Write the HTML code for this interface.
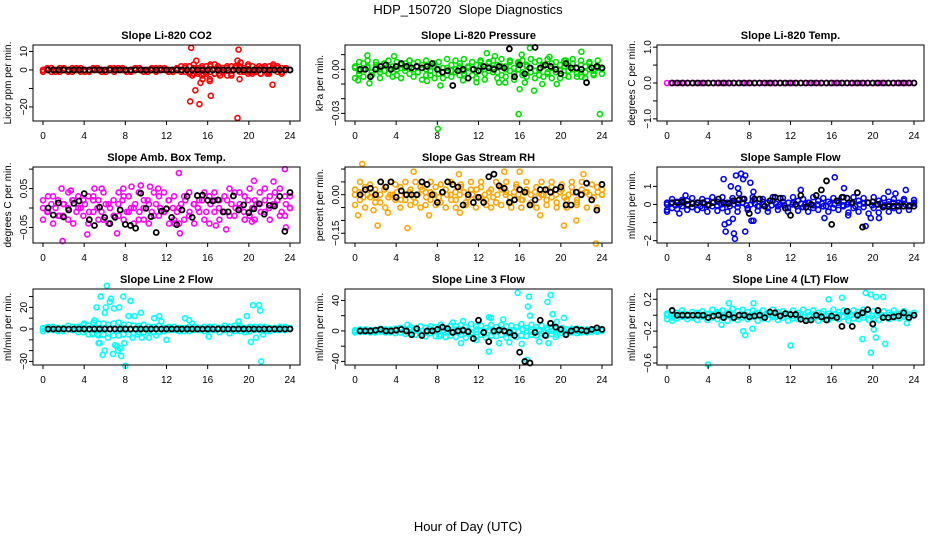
<!DOCTYPE html>
<html><head><meta charset="utf-8"><style>
html,body{margin:0;padding:0;background:#fff;}
svg{display:block;font-family:"Liberation Sans",sans-serif;}
</style></head><body>
<svg id="chart" width="936" height="540" viewBox="0 0 936 540">
<text x="468" y="14" text-anchor="middle" font-size="13" style="white-space:pre">HDP_150720  Slope Diagnostics</text>
<text x="468" y="531" text-anchor="middle" font-size="13">Hour of Day (UTC)</text>
</svg>
<script>
const xTicks=[0,4,8,12,16,20,24];
const co2A=[0,1,-1,0,1,0,-1,0,1,0,0,-1,0,1,0,-1,0,0,1,0,-1,0,1,0,0,-1,0,1,0,0,-1,0,1,0,-1,2,-2,1,-3,2,-1,3,-2,1,-3,2,2,-1,1,-2,2,-1,1,2,-2,1,2,-1,1,0];
const co2B=[-1,0,1,-1,0,1,0,-1,0,1,-1,0,1,0,-1,0,1,-1,0,1,0,-1,0,1,-1,0,1,-1,0,1,0,-1,0,2,1,-2,3,-1,2,-2,3,-2,1,-1,2,-3,1,2,-1,3,-2,1,-2,2,-1,3,1,-2,1,0];
const co2C=[0,0,1,0,-1,0,0,1,0,-1,0,0,1,0,0,-1,0,1,0,0,-1,0,0,1,0,-1,0,0,1,0,0,-1,1,-1,2,-1,1,-2,1,-1,2,-2,1,-1,1,-2,2,1,-1,2,-1,1,-2,1,-1,2,-1,1,0,0];
const co2Out=[[14.3,-17],[14.4,12],[14.5,-3],[14.8,-11],[14.9,5],[15.2,-18.5],[15.3,-7],[15.5,-5],[15.6,-2],[16.2,-5],[16.2,-6],[16.3,-14],[17.2,-3],[17,2],[18.9,5],[19,11],[18.9,-26],[19.1,-5],[19.2,4],[20,-1],[21.8,-2],[22.3,-8],[21,2],[20.5,-1],[22,2]];
const co2Black=[0,0,0,0,0,0,0,0,0,0,0,0,0,0,0,0,0,0,0,0,0,0,0,0,0,0,0,0,0,0,0,0,0,0,0,0,0,0,0,0,0,0,0,0,0,0,0,0];
const co2Ticks=[10,0,-10,-20];const co2Labels=["10","0","","-20"];

const presA=[0.002,-0.003,0.004,0.001,-0.004,0.003,-0.002,0.004,-0.003,0.002,-0.004,0.003,0.001,-0.003,0.004,-0.002,0.003,-0.004,0.002,0.004,-0.003,0.001,-0.004,0.003,-0.002,0.004,-0.003,0.002,-0.004,0.003,0.005,-0.003,0.004,-0.002,0.003,-0.004,0.002,0.005,-0.003,0.004,-0.004,0.003,-0.002,0.005,-0.004,0.003,-0.003,0.004,-0.002,0.003,-0.004,0.002,0.004,-0.003,0.003,-0.002,0.004,-0.003,0.002,0.001];
const presB=[-0.006,0.005,-0.005,0.006,-0.004,0.005,-0.006,0.004,0.006,-0.005,0.005,-0.006,0.004,0.006,-0.005,0.005,-0.007,0.006,-0.004,-0.006,0.005,-0.006,0.007,-0.005,0.006,-0.004,0.007,-0.006,0.005,-0.006,0.006,-0.007,0.005,0.006,-0.006,0.007,-0.005,0.006,-0.007,0.005,0.006,-0.005,0.007,-0.006,0.006,-0.005,0.007,-0.006,0.005,-0.006,0.006,-0.005,0.007,-0.005,0.006,-0.006,0.005,-0.004,0.006,-0.003];
const presC=[0.001,-0.001,0.0,0.002,-0.002,0.001,0.0,-0.001,0.002,-0.002,0.0,0.001,-0.001,0.002,0.0,-0.002,0.001,0.0,-0.001,0.002,0.0,-0.002,0.001,-0.001,0.0,0.002,-0.001,0.001,0.0,-0.002,0.002,0.0,-0.001,0.001,-0.002,0.002,0.0,-0.001,0.001,0.0,-0.002,0.002,0.001,-0.001,0.0,0.002,-0.002,0.001,0.0,-0.001,0.002,-0.001,0.0,0.001,-0.002,0.002,0.0,-0.001,0.001,0.0];
const presOut=[[1.2,0.0095],[0.3,-0.0075],[1.4,-0.0095],[3.8,0.009],[5.3,0.006],[7,-0.008],[8.05,-0.0405],[8.3,-0.011],[10.5,-0.0075],[11.8,-0.0088],[12.8,0.011],[13.6,0.009],[14,-0.009],[14.6,-0.009],[15.9,-0.0305],[16,-0.0135],[16.5,-0.009],[17,0.0145],[17.4,-0.0145],[18.2,-0.01],[18.9,0.0085],[19.6,-0.01],[22,0.012],[22,-0.005],[23.8,-0.0305],[16.2,0.01],[20.5,0.006]];
const presBlack=[0,0,-0.005,0,0.002,0.003,0,0.002,0.004,0.002,0.001,0.002,0.001,0.002,0.004,0,-0.002,-0.001,-0.011,-0.001,0,-0.006,0,-0.001,0.002,0.001,0,0.002,0.001,0.014,-0.005,0.003,-0.003,0.001,0.015,0.001,0.003,0.002,0,-0.003,0.004,0.001,0.001,0,-0.009,0.001,0.002,0.001];
const presTicks=[0.01,0,-0.01,-0.02,-0.03];const presLabels=["","0.00","","","-0.03"];

const tempA=[0,0,0,0,0,0,0,0,0,0,0,0,0,0,0,0,0,0,0,0,0,0,0,0,0,0,0,0,0,0,0,0,0,0,0,0,0,0,0,0,0,0,0,0,0,0,0,0,0,0,0,0,0,0,0,0,0,0,0,0];
const tempBlack=[0,0,0,0,0,0,0,0,0,0,0,0,0,0,0,0,0,0,0,0,0,0,0,0,0,0,0,0,0,0,0,0,0,0,0,0,0,0,0,0,0,0,0,0,0,0,0,0];
const tempTicks=[1,0.5,0,-0.5,-1];const tempLabels=["1.0","","0.0","","-1.0"];

const ambA=[0.02,-0.01,0.03,-0.02,0.01,-0.03,0.02,0.0,-0.02,0.03,-0.01,0.02,-0.03,0.01,0.02,-0.02,0.03,-0.01,0.0,-0.03,0.02,0.01,-0.02,0.03,-0.01,0.02,-0.03,0.0,0.03,-0.02,0.01,0.02,-0.03,0.03,-0.01,0.02,0.03,-0.02,0.04,0.0,0.03,-0.02,0.02,0.04,-0.01,0.03,0.01,-0.02,0.03,0.0];
const ambB=[-0.03,0.03,-0.04,0.02,-0.02,0.04,-0.04,0.03,0.02,-0.04,0.03,-0.03,0.04,-0.04,-0.02,0.04,-0.03,0.03,-0.04,0.04,-0.03,-0.04,0.04,-0.02,0.04,-0.04,0.03,-0.04,-0.03,0.04,-0.04,-0.01,0.04,-0.04,0.04,-0.03,-0.01,0.05,-0.02,0.04,-0.03,0.05,-0.03,0.01,0.05,-0.03,0.04,0.05,-0.02,0.03];
const ambC=[0.0,-0.01,0.01,0.0,-0.02,0.01,0.0,0.02,-0.01,0.0,0.01,-0.01,0.02,0.0,-0.01,0.01,0.0,-0.02,0.01,0.02,-0.01,0.0,0.01,-0.01,0.0,0.02,-0.01,0.01,0.0,-0.01,0.02,0.0,-0.01,0.01,0.02,-0.01,0.01,0.0,0.02,-0.01,0.01,0.02,0.0,-0.01,0.02,0.01,0.0,0.01,-0.01,0.02,0.0,0.01,-0.01,0.02,0.0,0.01,0.02,-0.01,0.01,0.0];
const ambOut=[[1.9,-0.085],[13.2,0.09],[23.5,0.1],[4.3,-0.068],[9.5,0.058],[13.3,-0.065],[23.6,-0.05],[1.8,0.05],[2.7,0.045],[5,0.05],[5.7,0.05],[7.8,0.05],[8.6,0.055],[10.4,0.055],[11.2,0.05],[20.5,0.07],[22.4,0.068],[20.3,-0.035],[17.8,-0.055],[16.8,-0.045],[7.2,-0.065],[12.8,-0.04]];
const ambBlack=[0,-0.018,0.013,-0.023,-0.005,0.012,0.018,0.037,-0.03,-0.045,0.002,-0.024,-0.04,-0.024,-0.005,-0.042,-0.045,-0.052,0.038,-0.001,-0.022,-0.063,-0.008,-0.002,-0.024,-0.043,-0.005,0.03,-0.024,0.032,0.033,0.02,0.018,0.021,-0.01,-0.01,0.031,-0.005,0.008,-0.012,-0.002,0.011,-0.016,0.007,0.005,0.03,-0.06,0.04];
const ambTicks=[0.1,0.05,0,-0.05];const ambLabels=["","0.05","","-0.05"];

const rhA=[0.02,-0.02,0.03,-0.01,0.02,-0.03,0.03,0.0,-0.02,0.03,-0.02,0.02,-0.03,0.03,0.01,-0.02,0.03,-0.03,0.02,0.0,-0.02,0.03,-0.03,0.02,-0.01,0.03,-0.02,0.02,-0.03,0.03,0.01,-0.03,0.03,-0.02,0.02,-0.03,0.03,0.0,-0.02,0.03,-0.03,0.02,-0.02,0.03,-0.03,0.02,0.01,-0.02,0.03,0.0];
const rhB=[-0.04,0.05,-0.05,0.04,-0.03,0.05,-0.05,0.05,0.04,-0.05,0.05,-0.04,0.05,-0.05,-0.04,0.05,-0.04,0.04,-0.05,0.05,-0.05,0.04,-0.04,0.05,-0.05,0.05,-0.04,-0.05,0.05,-0.04,0.05,-0.05,0.04,-0.05,0.05,-0.04,-0.05,0.05,-0.04,0.05,-0.05,0.04,-0.05,0.05,-0.04,0.05,-0.05,0.04,-0.05,0.02];
const rhC=[0.0,0.01,-0.01,0.0,0.01,-0.01,0.0,0.02,-0.01,0.0,0.01,-0.02,0.0,0.01,-0.01,0.0,0.02,-0.01,0.01,0.0,-0.01,0.01,0.0,-0.02,0.01,0.0,0.01,-0.01,0.0,0.02,-0.01,0.0,0.01,-0.01,0.0,0.02,0.0,-0.01,0.01,0.0,-0.02,0.01,0.0,0.01,-0.01,0.0,0.02,-0.01,0.0,0.01,-0.01,0.0,0.01,-0.02,0.0,0.01,0.0,-0.01,0.01,0.0];
const rhOut=[[0.7,0.12],[0.3,-0.08],[2.2,-0.12],[3.2,-0.07],[5.1,-0.13],[5.7,0.09],[7.2,-0.08],[10.1,0.08],[14.5,0.09],[16,0.09],[18,-0.08],[20.3,-0.12],[21.5,-0.1],[22.2,0.08],[23.4,-0.19],[1.8,-0.06],[10.2,-0.07]];
const rhBlack=[0,0.02,0.025,0,0.05,0.03,0.05,-0.01,0.015,0,0,0,0.05,0.04,0,-0.03,0.01,0.05,0.04,0.03,-0.04,0,-0.03,-0.01,-0.03,0.07,0.08,0.035,0.025,-0.03,-0.02,0.02,0.01,-0.04,-0.02,0.02,0.02,0.01,0.02,0.03,-0.04,-0.04,0.01,0,0.045,-0.02,-0.06,0.04];
const rhTicks=[0.1,0.05,0,-0.05,-0.1,-0.15];const rhLabels=["","","0.00","","","-0.15"];

const sfA=[0.1,-0.2,0.15,-0.1,0.2,-0.15,0.1,-0.2,0.2,-0.1,0.15,-0.2,0.1,0.2,-0.15,0.1,-0.2,0.2,-0.1,0.15,-0.2,0.2,-0.1,0.15,-0.2,0.1,0.2,-0.15,0.1,-0.2,0.2,-0.1,0.15,-0.2,0.2,-0.1,0.1,-0.2,0.2,-0.15,0.1,-0.2,0.2,-0.1,0.15,-0.2,0.1,0.2,-0.1,0.1];
const sfB=[-0.3,0.3,-0.25,0.25,-0.3,0.35,-0.3,0.3,-0.4,0.4,-0.35,0.4,-0.4,0.35,-0.4,0.3,-0.3,0.4,-0.35,0.3,-0.4,0.4,-0.3,0.35,-0.4,0.4,-0.35,0.3,-0.4,0.4,-0.3,0.35,-0.4,0.35,-0.3,0.4,-0.45,0.4,-0.4,0.35,-0.5,0.4,-0.45,0.35,-0.4,0.3,-0.35,0.3,-0.3,0.25];
const sfC=[0.0,0.05,-0.05,0.0,0.1,-0.05,0.05,0.0,-0.1,0.05,0.0,0.1,-0.05,0.0,0.05,-0.1,0.0,0.05,0.1,-0.05,0.0,0.05,-0.1,0.0,0.1,-0.05,0.05,0.0,-0.05,0.1,0.0,-0.1,0.05,0.0,0.1,-0.05,0.0,0.05,-0.1,0.05,0.0,0.1,-0.05,0.0,0.05,-0.1,0.0,0.05,0.1,-0.05,0.0,0.05,-0.05,0.0,0.1,-0.05,0.05,0.0,-0.05,0.05];
const sfOut=[[5.5,1.4],[5.6,-1.1],[5.7,-1.5],[6.0,-1.0],[6.2,1.0],[6.4,-0.8],[6.5,-1.6],[6.6,-1.9],[6.7,1.6],[6.9,0.9],[7,0.6],[7.2,1.7],[7.4,1.4],[7.6,1.6],[7.6,-1.5],[8.1,1.2],[8.2,-0.9],[8.4,0.7],[8.4,-0.9],[13,0.8],[15.3,-0.75],[16.3,1.5],[17.2,0.9],[17.6,-0.6],[19.3,-1.2],[21.5,0.7],[23.2,0.8],[1.2,-0.5],[0,-0.4],[1.8,0.5],[19.8,-0.75],[20.6,-0.75],[22.2,0.6]];
const sfBlack=[0.1,0.1,0.15,0,0.05,0.1,0.1,-0.05,0.1,0.3,0.1,0.05,0.2,0.25,0.3,-0.5,0.3,0.3,-0.1,0.2,0.4,0.35,-0.2,-0.6,0.0,0.5,-0.15,0.0,0.5,0.8,1.3,-1.1,0.2,0.4,0.35,0.1,0.65,-1.25,0.1,0.15,0.0,-0.15,-0.1,-0.1,-0.1,-0.1,-0.1,-0.1];
const sfTicks=[1,0,-1,-2];const sfLabels=["1","0","","-2"];

const l2A=[1,-1,2,-2,1,0,-1,2,-3,3,-4,5,-5,4,-6,6,-5,4,-4,3,-3,2,-3,3,-2,2,-1,1,-2,2,-1,1,-2,2,-1,1,-1,2,-2,3,-3,2,-1,2,-2,1,-1,2,-1,1];
const l2B=[-2,2,-1,1,-2,3,2,-3,4,-5,6,-6,5,-4,5,-6,4,-5,3,-3,4,-2,2,-3,1,-1,2,-2,1,-2,2,-1,2,-1,2,-3,3,-4,3,-2,1,-2,2,-1,2,-2,1,-1,2,0];
const l2C=[0,1,0,-1,0,1,0,-1,1,0,-1,0,1,0,-1,1,0,0,-1,1,0,-1,0,1,0,-1,1,0,0,-1,1,0,-1,0,1,0,-1,1,0,0,1,-1,0,1,0,-1,0,1,-1,0,1,0,-1,0,1,0,-1,1,0,0];
const l2Out=[[5.2,20],[5.3,-5],[5.4,-13],[5.5,-13],[5.6,30],[5.8,-24],[6,-20],[6,15],[6.1,20],[6.2,40],[6.3,-8],[6.5,25],[6.6,28],[6.8,-23],[6.9,19],[7,-15],[7.2,-16],[7.3,-20],[7.5,-18],[7.4,20],[7.6,-25],[7.8,30],[7.9,-13],[8,-34],[8.3,12],[8.5,26],[8.7,-8],[8.9,12],[9.5,15],[9.2,-5],[10.3,-8],[10.8,10],[11.3,12],[11.5,7],[12,-10],[13.8,10],[14.2,8],[14.5,5],[16.1,-7],[19,7],[19.8,12],[20.2,-12],[20.4,22],[20.7,-8],[21,22],[21.1,17],[21.2,-30],[21.4,-5],[4,5],[4.8,-5],[5,8],[9.6,-8],[11,-6]];
const l2Black=[0,0,0,0,0,0,0,0,0,0,0,0,0,0,0,0,0,0,0,0,0,0,0,0,0,0,0,0,0,0,0,0,0,0,0,0,0,0,0,0,0,0,0,0,0,0,0,0];
const l2Ticks=[30,20,10,0,-10,-20,-30];const l2Labels=["","20","","0","","","-30"];

const l3A=[1,-1,2,-2,1,-1,2,-2,3,-2,2,-3,3,-4,4,-3,5,-5,4,-6,6,-5,5,-4,6,-5,4,-6,5,-5,6,-4,5,-6,4,-5,5,-3,4,-4,3,-3,2,-2,3,-2,2,-1,1,0];
const l3B=[-2,2,-1,1,-2,3,-2,2,-3,4,-4,5,-5,6,-7,6,-7,8,-8,7,-8,8,-9,9,-8,7,-9,8,-7,8,-9,7,-8,9,-7,8,-6,7,-6,5,-5,4,-4,3,-3,2,-2,2,-1,1];
const l3C=[0,1,-1,0,1,-1,0,2,-1,0,1,-2,0,2,-1,1,0,-2,2,0,-1,1,0,-2,2,-1,0,1,-2,2,0,-1,1,-2,0,2,-1,0,1,-1,2,0,-1,1,0,-1,2,0,-1,1,0,-1,1,0,1,-1,0,1,0,0];
const l3Out=[[15.8,50],[16.7,-38],[16.9,45],[16.8,32],[17,20],[18.7,38],[19,47],[19.2,22],[19.6,12],[20.3,17],[13,-27],[13,18],[13.2,17],[14.4,15],[14,-16],[10.3,-16],[10.5,13],[11.8,-12],[9.5,11],[15,-15],[16.2,-17],[17.9,-14],[18.8,-16],[19.5,-8],[8.2,-7],[8.8,-8],[5.1,8]];
const l3Black=[0,0,0,1,2,0,0,1,2,0,-5,3,-6,0,0,2,5,3,-2,0,1,-1,-10,14,-2,-14,0,1,0,-2,-6,-28,-40,-42,-2,14,-6,10,5,2,-5,0,2,1,0,2,4,2];
const l3Ticks=[40,20,0,-20,-40];const l3Labels=["40","","0","","-40"];

const l4A=[0.02,-0.03,0.03,-0.02,0.01,-0.03,0.03,-0.01,0.02,-0.03,0.04,-0.02,0.03,-0.04,0.05,-0.03,0.04,-0.02,0.03,-0.04,0.03,-0.02,0.04,-0.03,0.02,-0.04,0.03,-0.02,0.04,-0.03,0.03,-0.04,0.02,-0.03,0.04,-0.02,0.03,-0.04,0.04,-0.03,0.02,-0.04,0.03,-0.02,0.03,-0.03,0.02,-0.02,0.01,0];
const l4B=[-0.05,0.05,-0.04,0.06,-0.05,0.04,-0.06,0.05,-0.06,0.07,-0.05,0.06,-0.07,0.08,-0.06,0.07,-0.05,0.06,-0.07,0.06,-0.05,0.07,-0.06,0.05,-0.07,0.06,-0.05,0.07,-0.06,0.06,-0.07,0.05,-0.06,0.07,-0.05,0.06,-0.07,0.06,-0.05,0.07,-0.06,0.05,-0.06,0.05,-0.05,0.06,-0.04,0.05,-0.04,0.03];
const l4C=[0.0,0.01,-0.01,0.0,0.02,-0.01,0.0,0.01,-0.02,0.0,0.01,-0.01,0.02,0.0,-0.01,0.01,0.0,-0.02,0.01,0.0,-0.01,0.02,0.0,-0.01,0.01,0.0,-0.02,0.01,0.0,0.02,-0.01,0.0,0.01,-0.02,0.0,0.01,-0.01,0.02,0.0,-0.01,0.01,0.0,-0.02,0.01,0.0,0.01,-0.01,0.0,0.02,-0.01,0.0,0.01,-0.01,0.0,0.01,-0.01,0.0,0.01,0.0,0.0];
const l4Out=[[4,-0.62],[12,-0.38],[19,-0.3],[19.8,-0.47],[21.2,-0.36],[20.1,-0.18],[20.3,-0.28],[19.3,0.28],[19.8,0.26],[20.3,0.23],[21,0.23],[15.7,0.2],[17,0.22],[6,0.15],[8.4,0.15],[7.4,-0.2],[7.6,-0.25],[5.3,-0.12],[8.3,-0.17],[23.3,-0.1],[0.5,-0.07]];
const l4Black=[0.06,0,0,0,0,0,0,-0.03,-0.01,0,-0.03,0.01,-0.03,0,0,-0.02,-0.01,0,-0.03,0.04,0.03,-0.01,0.02,0.01,0.01,-0.05,-0.07,-0.06,0,-0.02,-0.06,-0.01,-0.03,-0.14,0.05,-0.14,0,0.03,0.07,-0.11,0.06,-0.03,-0.03,-0.02,-0.01,0.03,-0.03,0];
const l4Ticks=[0.2,0,-0.2,-0.4,-0.6];const l4Labels=["0.2","","-0.2","","-0.6"];

const panels=[
 {name:"co2",title:"Slope Li-820 CO2",ylab:"Licor ppm per min.",col:"#ff0000",top:13.5,bot:-27.6,bands:[co2A,co2B,co2C],out:co2Out,black:co2Black,ticks:co2Ticks,labels:co2Labels},
 {name:"pressure",title:"Slope Li-820 Pressure",ylab:"kPa per min.",col:"#00e000",top:0.0166,bot:-0.0352,bands:[presA,presB,presC],out:presOut,black:presBlack,ticks:presTicks,labels:presLabels},
 {name:"li820-temp",title:"Slope Li-820 Temp.",ylab:"degrees C per min.",col:"#ff00ff",top:1.06,bot:-1.06,bands:[tempA],out:[],black:tempBlack,ticks:tempTicks,labels:tempLabels},
 {name:"amb-box-temp",title:"Slope Amb. Box Temp.",ylab:"degrees C per min.",col:"#ff00ff",top:0.1055,bot:-0.09,bands:[ambA,ambB,ambC],out:ambOut,black:ambBlack,ticks:ambTicks,labels:ambLabels},
 {name:"gas-stream-rh",title:"Slope Gas Stream RH",ylab:"percent per min.",col:"#ffa500",top:0.108,bot:-0.188,bands:[rhA,rhB,rhC],out:rhOut,black:rhBlack,ticks:rhTicks,labels:rhLabels},
 {name:"sample-flow",title:"Slope Sample Flow",ylab:"ml/min per min.",col:"#0000ff",top:2.07,bot:-2.13,bands:[sfA,sfB,sfC],out:sfOut,black:sfBlack,ticks:sfTicks,labels:sfLabels},
 {name:"line2-flow",title:"Slope Line 2 Flow",ylab:"ml/min per min.",col:"#00ffff",top:37,bot:-33.3,bands:[l2A,l2B,l2C],out:l2Out,black:l2Black,ticks:l2Ticks,labels:l2Labels},
 {name:"line3-flow",title:"Slope Line 3 Flow",ylab:"ml/min per min.",col:"#00ffff",top:55,bot:-44.7,bands:[l3A,l3B,l3C],out:l3Out,black:l3Black,ticks:l3Ticks,labels:l3Labels},
 {name:"line4-flow",title:"Slope Line 4 (LT) Flow",ylab:"ml/min per min.",col:"#00ffff",top:0.329,bot:-0.625,bands:[l4A,l4B,l4C],out:l4Out,black:l4Black,ticks:l4Ticks,labels:l4Labels}
];
const colLeft=[33,345,657], rowTop=[45,167,289], W=267, H=76;
const NS="http://www.w3.org/2000/svg";
const svg=document.getElementById('chart');
function mk(tag,attrs,parent){const e=document.createElementNS(NS,tag);for(const k in attrs)e.setAttribute(k,attrs[k]);parent.appendChild(e);return e;}
panels.forEach((p,i)=>{
 const L=colLeft[i%3], T=rowTop[Math.floor(i/3)], B=T+H;
 const xs=h=>L+10+h*(W-20)/24;
 const ys=v=>T+(p.top-v)/(p.top-p.bot)*H;
 const g=mk('g',{},svg);
 
 
 const t=mk('text',{x:L+W/2,y:T-6,'text-anchor':'middle','font-size':11,'font-weight':'bold'},g);
 t.textContent=p.title;
 
 
 const yl=mk('text',{transform:`translate(${L-22},${T+H/2}) rotate(-90)`,'text-anchor':'middle','font-size':10},g);
 yl.textContent=p.ylab;
 
 
 const pts=mk('g',{fill:'none','stroke-width':1.6},g);
 
 
 p.bands.forEach(arr=>{arr.forEach((v,k)=>{
  const c=mk('circle',{cx:xs(k*24/(arr.length-1)),cy:ys(v),r:2.5,stroke:p.col},pts);
  
  
 });});
 p.out.forEach(d=>{
  const c=mk('circle',{cx:xs(d[0]),cy:ys(d[1]),r:2.5,stroke:p.col},pts);
  
  
 });
 p.black.forEach((v,k)=>{
  const c=mk('circle',{cx:xs(0.5+k*23.5/(p.black.length-1)),cy:ys(v),r:2.5,stroke:'#000','stroke-width':1.8},pts);
  
  
 });
 const box=mk('rect',{x:L,y:T,width:W,height:H,fill:'none',stroke:'#000','stroke-width':1},g);
 
 
 const ax=mk('g',{stroke:'#000','stroke-width':1},g);
 
 
 mk('line',{x1:xs(0),x2:xs(24),y1:B,y2:B},ax);
 xTicks.forEach(h=>{
  mk('line',{x1:xs(h),x2:xs(h),y1:B,y2:B+4},ax);
  const tl=mk('text',{x:xs(h),y:B+18,'text-anchor':'middle','font-size':10,stroke:'none',fill:'#000'},g);
  tl.textContent=h;
  
  
 });
 p.ticks.forEach((v,k)=>{
  mk('line',{x1:L-4,x2:L,y1:ys(v),y2:ys(v)},ax);
  if(p.labels[k]){
   const tl=mk('text',{transform:`translate(${L-6},${ys(v)}) rotate(-90)`,'text-anchor':'middle','font-size':10},g);
   tl.textContent=p.labels[k].replace('-','\u2212');
   
   
  }
 });
});
</script>
</body></html>
